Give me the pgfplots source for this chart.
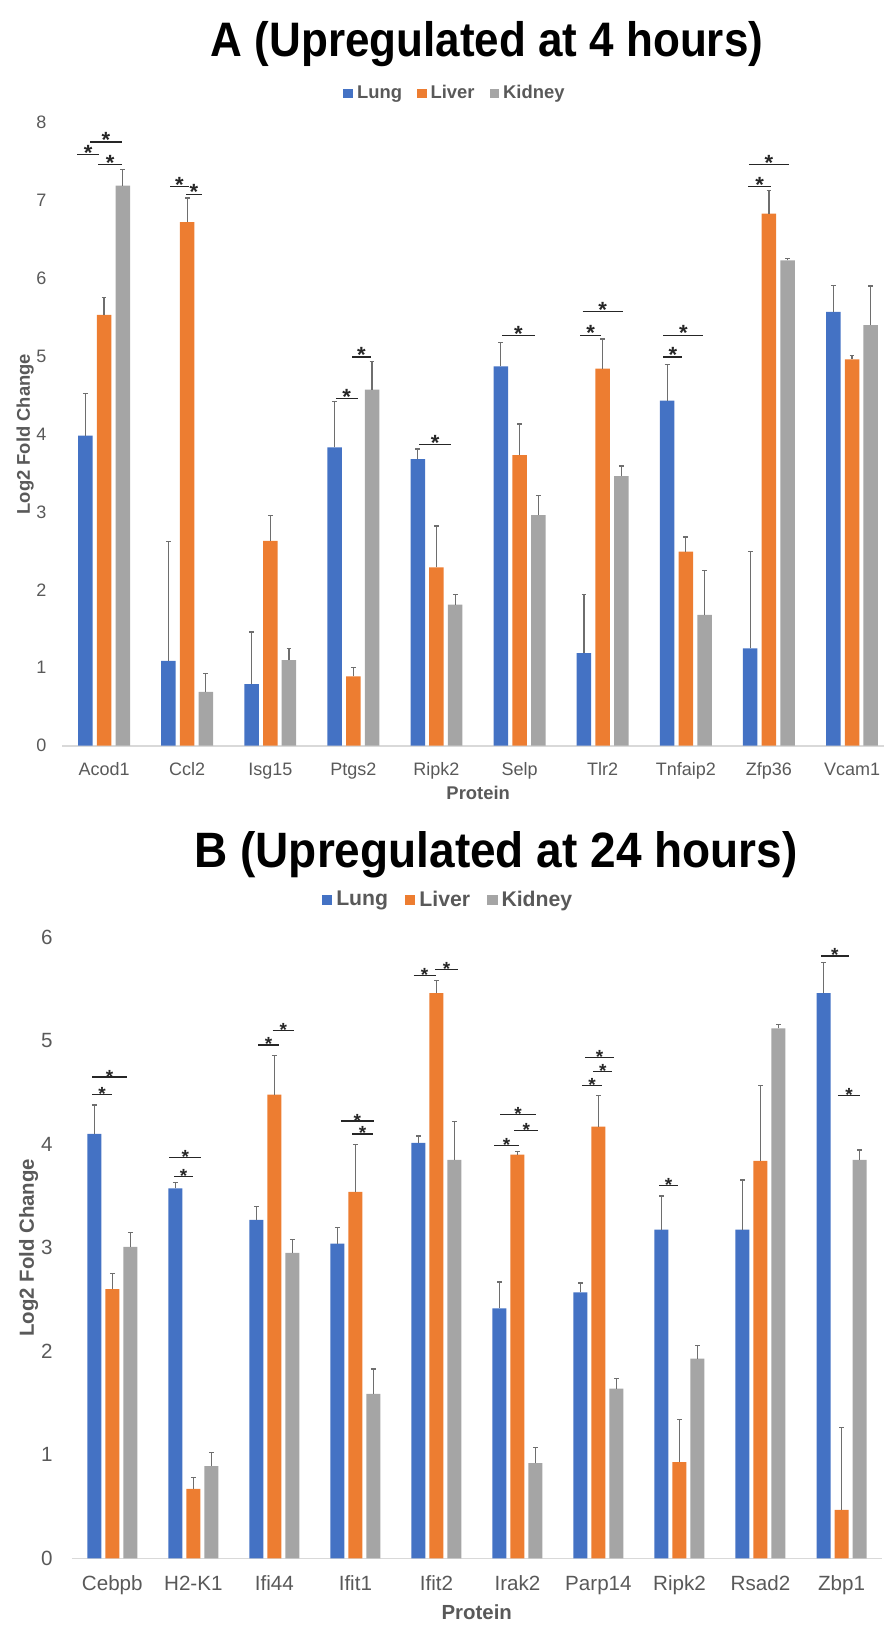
\documentclass[border=0pt]{standalone}
\usepackage{fontspec}
\setmainfont{Liberation Sans}
\usepackage{graphicx}
\usepackage{pgfplots}
\usepackage{pgfplotstable}
\pgfplotsset{compat=1.18}
\definecolor{lung}{HTML}{4472C4}
\definecolor{liver}{HTML}{ED7D31}
\definecolor{kidney}{HTML}{A5A5A5}
\definecolor{txt}{HTML}{595959}
\definecolor{axisline}{HTML}{D9D9D9}
\definecolor{errc}{HTML}{6E6E6E}

\pgfplotstableread{
x lung lunge liver livere kidney kidneye
0 3.98 0.54 5.53 0.22 7.19 0.21
1 1.09 1.53 6.72 0.31 0.69 0.24
2 0.79 0.67 2.63 0.33 1.10 0.15
3 3.83 0.59 0.89 0.11 4.57 0.36
4 3.68 0.13 2.29 0.53 1.81 0.13
5 4.87 0.31 3.73 0.40 2.96 0.25
6 1.19 0.75 4.84 0.38 3.46 0.13
7 4.43 0.46 2.49 0.19 1.68 0.57
8 1.25 1.24 6.83 0.30 6.23 0.02
9 5.57 0.34 4.96 0.05 5.40 0.50
}\dataA

\pgfplotstableread{
x lung lunge liver livere kidney kidneye
0 4.10 0.28 2.60 0.15 3.01 0.14
1 3.575 0.055 0.67 0.11 0.89 0.13
2 3.27 0.13 4.48 0.38 2.95 0.13
3 3.04 0.16 3.54 0.46 1.59 0.24
4 4.015 0.065 5.46 0.12 3.85 0.37
5 2.415 0.255 3.90 0.03 0.92 0.15
6 2.57 0.09 4.17 0.30 1.64 0.10
7 3.175 0.325 0.93 0.41 1.93 0.13
8 3.175 0.48 3.84 0.73 5.12 0.035
9 5.46 0.295 0.467 0.80 3.85 0.095
}\dataB

\newcommand{\sigA}[3]{\draw[line width=0.55pt, black!85] (axis cs:#1,#3) -- (axis cs:#2,#3) node[midway, anchor=base, yshift=-2.9pt, inner sep=0pt, font=\fontsize{11}{11}\selectfont\bfseries]{*};}
\newcommand{\sigB}[3]{\draw[line width=0.55pt, black!85] (axis cs:#1,#3) -- (axis cs:#2,#3) node[midway, anchor=base, yshift=-3.0pt, inner sep=0pt, font=\fontsize{9.5}{10}\selectfont\bfseries]{*};}

\pgfplotsset{
  common/.style={
    scale only axis, anchor=south west,
    ymin=0, enlargelimits=false,
    axis lines*=left,
    x axis line style={draw=axisline, line width=0.8pt, -},
    y axis line style={draw=none},
    major tick length=0pt, tick style={draw=none},
    xtick={0,...,9},
    /pgf/number format/assume math mode=true,
    ybar,
    legend columns=3,
    legend image code/.code={\fill[##1] (0pt,-2.4pt) rectangle (4.8pt,2.4pt);},
  },
  barseries/.style={draw=none, fill=#1,
    error bars/y dir=plus, error bars/y explicit,
    error bars/error bar style={errc, line width=0.6pt},
    error bars/error mark options={errc, mark size=1.2pt, rotate=90, line width=0.6pt}},
}

\begin{document}
\begin{tikzpicture}
\useasboundingbox (0pt,0pt) rectangle (442pt,-812.5pt);

\node[anchor=base, font=\fontsize{22}{22}\selectfont\bfseries] at (243.5pt,-28.5pt) {\scalebox{1}[1.1]{A (Upregulated at 4 hours)}};
\node[anchor=base, font=\fontsize{23}{23}\selectfont\bfseries] at (248pt,-433.5pt) {\scalebox{1}[1.08]{B (Upregulated at 24 hours)}};

\begin{axis}[common,
  at={(31.25pt,-372.85pt)},
  width=410.75pt, height=311.6pt,
  xmin=-0.5, xmax=9.385, ymax=8, ytick={0,1,...,8},
  bar width=7.25pt,
  xticklabels={Acod1,Ccl2,Isg15,Ptgs2,Ripk2,Selp,Tlr2,Tnfaip2,Zfp36,Vcam1},
  tick label style={font=\fontsize{9}{10}\selectfont, text=txt},
  xticklabel style={anchor=base, yshift=-14.7pt, inner sep=0pt},
  yticklabel style={anchor=east, xshift=-7.9pt, inner sep=0pt},
  xlabel={Protein}, ylabel={Log2 Fold Change},
  every axis x label/.style={at={(axis description cs:0.506,-0.0764)}, anchor=center,
    font=\fontsize{9.2}{10}\selectfont\bfseries, text=txt},
  every axis y label/.style={at={(axis description cs:-0.0456,0.5)}, rotate=90, anchor=center,
    font=\fontsize{9.2}{10}\selectfont\bfseries, text=txt},
  legend style={at={(0.479,1.0465)}, anchor=center, draw=none, fill=none,
    font=\fontsize{9.2}{10}\selectfont\bfseries, text=txt,
    /tikz/every even column/.append style={column sep=5.5pt}},
]
\addplot[barseries=lung, bar shift=-9.35pt] table[x=x, y=lung, y error=lunge] {\dataA};
\addplot[barseries=liver, bar shift=0pt] table[x=x, y=liver, y error=livere] {\dataA};
\addplot[barseries=kidney, bar shift=9.35pt] table[x=x, y=kidney, y error=kidneye] {\dataA};
\legend{Lung,Liver,Kidney}
\sigA{-0.325}{-0.06}{7.59}
\sigA{-0.17}{0.217}{7.75}
\sigA{-0.07}{0.217}{7.46}
\sigA{0.795}{1.02}{7.18}
\sigA{0.987}{1.176}{7.08}
\sigA{2.79}{3.05}{4.46}
\sigA{2.985}{3.21}{4.99}
\sigA{3.79}{4.18}{3.87}
\sigA{4.79}{5.18}{5.26}
\sigA{5.73}{5.98}{5.27}
\sigA{5.76}{6.24}{5.57}
\sigA{6.73}{6.96}{4.99}
\sigA{6.73}{7.21}{5.27}
\sigA{7.75}{8.03}{7.18}
\sigA{7.76}{8.24}{7.46}
\end{axis}

\begin{axis}[common,
  at={(35.9pt,-779.15pt)},
  width=405.1pt, height=310.5pt,
  xmin=-0.5, xmax=9.5, ymax=6, ytick={0,1,...,6},
  bar width=7pt,
  xticklabels={Cebpb,H2-K1,Ifi44,Ifit1,Ifit2,Irak2,Parp14,Ripk2,Rsad2,Zbp1},
  tick label style={font=\fontsize{10.3}{11}\selectfont, text=txt},
  xticklabel style={anchor=base, yshift=-16.2pt, inner sep=0pt},
  yticklabel style={anchor=east, xshift=-9.4pt, inner sep=0pt},
  xlabel={Protein}, ylabel={Log2 Fold Change},
  every axis x label/.style={at={(axis description cs:0.4998,-0.086)}, anchor=center,
    font=\fontsize{10.2}{11}\selectfont\bfseries, text=txt},
  every axis y label/.style={at={(axis description cs:-0.0533,0.5)}, rotate=90, anchor=center,
    font=\fontsize{10.2}{11}\selectfont\bfseries, text=txt},
  legend style={at={(0.4656,1.0599)}, anchor=center, draw=none, fill=none,
    font=\fontsize{10.6}{11}\selectfont\bfseries, text=txt,
    /tikz/every even column/.append style={column sep=6.5pt}},
  legend image code/.code={\fill[#1] (0pt,-2.6pt) rectangle (5.2pt,2.6pt);},
]
\addplot[barseries=lung, bar shift=-9pt] table[x=x, y=lung, y error=lunge] {\dataB};
\addplot[barseries=liver, bar shift=0pt] table[x=x, y=liver, y error=livere] {\dataB};
\addplot[barseries=kidney, bar shift=9pt] table[x=x, y=kidney, y error=kidneye] {\dataB};
\legend{Lung,Liver,Kidney}
\sigB{-0.247}{-0.007}{4.48}
\sigB{-0.247}{0.178}{4.65}
\sigB{0.762}{1.0}{3.69}
\sigB{0.70}{1.10}{3.87}
\sigB{1.80}{2.06}{4.96}
\sigB{1.98}{2.24}{5.10}
\sigB{2.96}{3.22}{4.10}
\sigB{2.82}{3.23}{4.225}
\sigB{3.72}{3.99}{5.63}
\sigB{3.98}{4.27}{5.69}
\sigB{4.716}{5.017}{3.99}
\sigB{4.96}{5.26}{4.13}
\sigB{4.786}{5.23}{4.29}
\sigB{5.80}{6.04}{4.57}
\sigB{5.935}{6.17}{4.70}
\sigB{5.84}{6.19}{4.84}
\sigB{6.753}{6.98}{3.60}
\sigB{8.746}{9.09}{5.82}
\sigB{8.955}{9.23}{4.47}
\end{axis}
\end{tikzpicture}
\end{document}
